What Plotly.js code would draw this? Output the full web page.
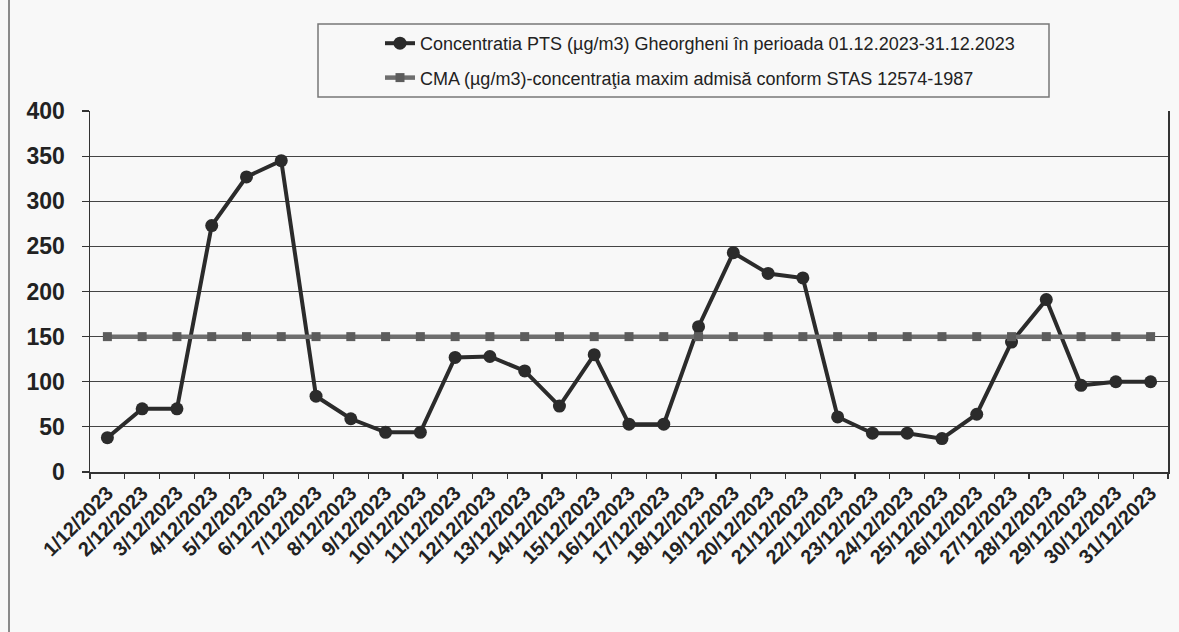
<!DOCTYPE html>
<html>
<head>
<meta charset="utf-8">
<script src="https://cdn.plot.ly/plotly-3.0.1.min.js"></script>
<style>
  html, body { margin: 0; padding: 0; background: #f8f8f8; }
  #chart { width: 1179px; height: 632px; }
</style>
</head>
<body>
<div id="chart"></div>
<script>
// ---- data ----
const dates = [
  "1/12/2023","2/12/2023","3/12/2023","4/12/2023","5/12/2023","6/12/2023","7/12/2023",
  "8/12/2023","9/12/2023","10/12/2023","11/12/2023","12/12/2023","13/12/2023","14/12/2023",
  "15/12/2023","16/12/2023","17/12/2023","18/12/2023","19/12/2023","20/12/2023","21/12/2023",
  "22/12/2023","23/12/2023","24/12/2023","25/12/2023","26/12/2023","27/12/2023","28/12/2023",
  "29/12/2023","30/12/2023","31/12/2023"
];
const ptsValues = [
  38, 70, 70, 273, 327, 345, 84,
  59, 44, 44, 127, 128, 112, 73,
  130, 53, 53, 161, 243, 220, 215,
  61, 43, 43, 37, 64, 144, 191,
  96, 100, 100
];
const cmaValues = [
  150, 150, 150, 150, 150, 150, 150,
  150, 150, 150, 150, 150, 150, 150,
  150, 150, 150, 150, 150, 150, 150,
  150, 150, 150, 150, 150, 150, 150,
  150, 150, 150
];
const yTickValues = [0, 50, 100, 150, 200, 250, 300, 350, 400];
const ptsName = "Concentratia PTS (µg/m3) Gheorgheni în perioada 01.12.2023-31.12.2023";
const cmaName = "CMA (µg/m3)-concentraţia maxim admisă conform STAS 12574-1987";

const FONT = "Liberation Sans, Arial, sans-serif";

const traces = [
  {
    x: dates, y: ptsValues, name: ptsName, type: "scatter", mode: "lines+markers",
    legendgroup: "a",
    line: { color: "#2b2b2b", width: 4 },
    marker: { symbol: "circle", size: 13, color: "#2b2b2b" }
  },
  {
    x: dates, y: cmaValues, name: cmaName, type: "scatter", mode: "lines+markers",
    legendgroup: "b",
    line: { color: "#6e6e6e", width: 4.5 },
    marker: { symbol: "square", size: 9, color: "#5c5c5c" }
  }
];

const L = 90, R = 1168, T = 111, B = 472;
const W = R - L, H = B - T;
const px2x = p => (p - L) / W;
const px2y = p => 1 + (T - p) / H;

const layout = {
  width: 1179, height: 632,
  margin: { l: L, r: 1179 - R, t: T, b: 632 - B },
  paper_bgcolor: "#f8f8f8",
  plot_bgcolor: "#f8f8f8",
  font: { family: FONT, color: "#222" },
  showlegend: true,
  legend: {
    x: px2x(380), y: px2y(25), xanchor: "left", yanchor: "top",
    bgcolor: "rgba(0,0,0,0)", borderwidth: 0,
    font: { family: FONT, size: 18, color: "#222" },
    traceorder: "grouped", tracegroupgap: 8
  },
  xaxis: {
    type: "category",
    tickmode: "array", tickvals: dates, ticktext: dates,
    tickangle: -45,
    tickfont: { family: FONT, size: 20, color: "#222", weight: "bold" },
    ticks: "outside", ticklen: 5, tickwidth: 1.2, tickcolor: "#333",
    tickson: "boundaries",
    showline: true, linecolor: "#333", linewidth: 1.5,
    showgrid: false, zeroline: false,
    range: [-0.5, dates.length - 0.5]
  },
  yaxis: {
    range: [0, 400],
    tickmode: "array", tickvals: yTickValues, ticktext: yTickValues.map(String),
    tickfont: { family: FONT, size: 23, color: "#222", weight: "bold" },
    ticks: "outside", ticklen: 7, tickwidth: 1.2, tickcolor: "#333",
    ticklabelstandoff: 12,
    showline: true, linecolor: "#333", linewidth: 1.5, mirror: true,
    showgrid: true, gridcolor: "#444", gridwidth: 1,
    zeroline: false
  },
  shapes: [
    { type: "rect", xref: "paper", yref: "paper",
      x0: px2x(318), x1: px2x(1049), y0: px2y(97), y1: px2y(24),
      line: { color: "#777", width: 1.5 }, fillcolor: "rgba(0,0,0,0)" },
    { type: "line", xref: "paper", yref: "paper",
      x0: px2x(9), x1: px2x(9), y0: px2y(632), y1: px2y(0),
      line: { color: "#666", width: 1.5 } }
  ]
};

Plotly.newPlot("chart", traces, layout, { displayModeBar: false, staticPlot: true });
</script>
</body>
</html>
